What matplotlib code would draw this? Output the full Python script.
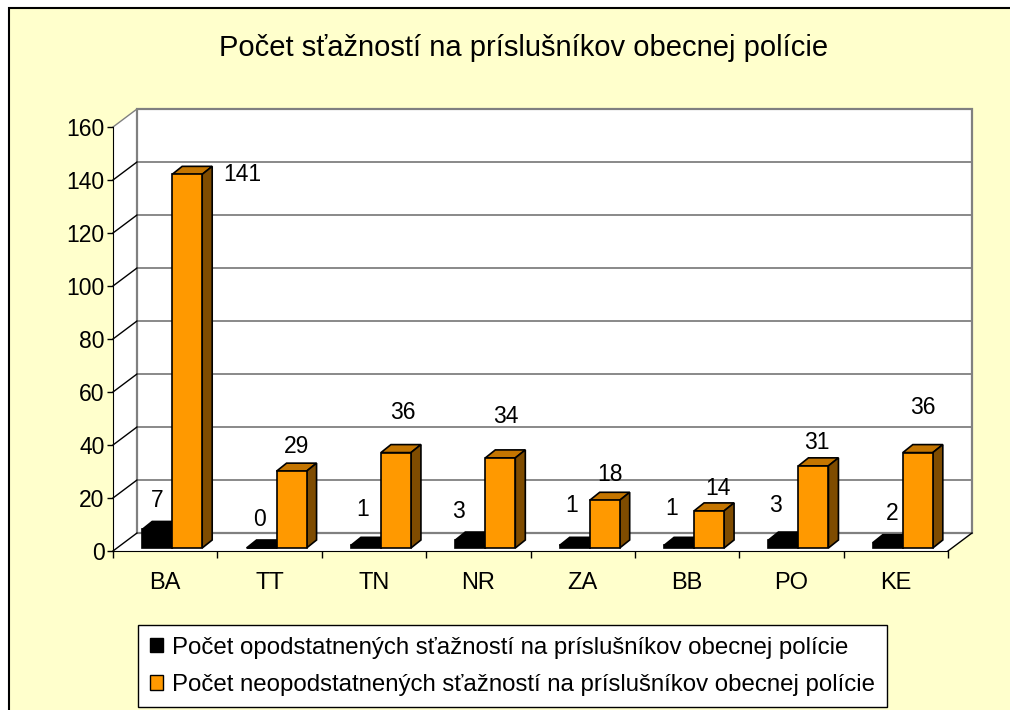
import matplotlib
matplotlib.use("Agg")
import matplotlib.pyplot as plt
from matplotlib.patches import Polygon, Rectangle, Patch

plt.rcParams['font.family'] = ['Liberation Sans', 'DejaVu Sans']

# ---- data ----
title = "Počet sťažností na príslušníkov obecnej polície"
categories = ["BA", "TT", "TN", "NR", "ZA", "BB", "PO", "KE"]
justified = [7, 0, 1, 3, 1, 1, 3, 2]
unjustified = [141, 29, 36, 34, 18, 14, 31, 36]
series_names = ["Počet opodstatnených sťažností na príslušníkov obecnej polície",
                "Počet neopodstatnených sťažností na príslušníkov obecnej polície"]
yticks = [0, 20, 40, 60, 80, 100, 120, 140, 160]

# ---- style ----
W, H = 1010, 710
bg = "#FFFFCC"
front_col = ["#000000", "#FF9900"]
top_col = ["#000000", "#C47500"]
side_col = ["#000000", "#7F4C00"]
grid_col = "#808080"
# data-label offsets (pixels) from the top-centre of each bar's front face
label_dx = [[0, -2, -3, -12, -3, -7, -8, 4], [55, 5, 7, 5, 5, 9, 3, 5]]
label_dy = [[29, 28, 36, 29, 40, 37, 35, 29], [0, 25, 40, 41, 26, 22, 23, 45]]

fig = plt.figure(figsize=(W / 100, H / 100), dpi=100, facecolor="white")
fig.patches.append(Rectangle((9 / W, -0.1), 1.2, (H - 8) / H + 0.1,
                             transform=fig.transFigure, facecolor=bg,
                             edgecolor="black", lw=1.5, zorder=-10))

ax_l, ax_r, ax_t, ax_b = 113, 948, 127, 551
ax = fig.add_axes([ax_l / W, 1 - ax_b / H, (ax_r - ax_l) / W, (ax_b - ax_t) / H])
ax.set_facecolor("none")
n = len(categories)
ymax = 160
ax.set_xlim(0, n)
ax.set_ylim(0, ymax)

# pixel -> data unit conversion
ux = n / (ax_r - ax_l)
uy = ymax / (ax_b - ax_t)

# wall depth in pixels
wdx, wdy = 24 * ux, 18 * uy

# left wall + floor + back wall
ax.add_patch(Polygon([(0, 0), (0, ymax), (wdx, ymax + wdy), (wdx, wdy)],
                     closed=True, facecolor="white", edgecolor="none", clip_on=False, zorder=0))
ax.add_patch(Polygon([(0, 0), (n, 0), (n + wdx, wdy), (wdx, wdy)],
                     closed=True, facecolor="white", edgecolor="none", clip_on=False, zorder=0))
ax.add_patch(Rectangle((wdx, wdy), n, ymax, facecolor="white", edgecolor=grid_col,
                       lw=1.6, clip_on=False, zorder=0.5))
for v in yticks[1:-1]:
    ax.plot([wdx, n + wdx], [v + wdy, v + wdy], color=grid_col, lw=1.3,
            clip_on=False, zorder=0.6)
for v in yticks:
    ax.plot([0, wdx], [v, v + wdy], color=grid_col if v == ymax else "black",
            lw=1.0, clip_on=False, zorder=0.7)
ax.plot([n, n + wdx], [0, wdy], color="black", lw=1.0, clip_on=False, zorder=0.7)

# bars
bw = 30 * ux
shift_x, shift_y = 7 * ux, 3 * uy
bdx, bdy = 10 * ux, 8 * uy
for si, vals in enumerate([justified, unjustified]):
    for i, v in enumerate(vals):
        c = i + 0.5 + shift_x
        x0 = c - bw + si * bw
        x1 = x0 + bw
        y0 = shift_y
        y1 = shift_y + v
        ax.add_patch(Polygon([(x0, y0), (x1, y0), (x1, y1), (x0, y1)], closed=True,
                             facecolor=front_col[si], edgecolor="black", lw=1.2,
                             clip_on=False, zorder=3 + si))
        ax.add_patch(Polygon([(x0, y1), (x1, y1), (x1 + bdx, y1 + bdy), (x0 + bdx, y1 + bdy)],
                             closed=True, facecolor=top_col[si], edgecolor="black", lw=1.2,
                             clip_on=False, zorder=2.5 + si))
        ax.add_patch(Polygon([(x1, y0), (x1 + bdx, y0 + bdy), (x1 + bdx, y1 + bdy), (x1, y1)],
                             closed=True, facecolor=side_col[si], edgecolor="black", lw=1.2,
                             clip_on=False, zorder=2.5 + si))
        ax.annotate(str(v), ((x0 + x1) / 2, y1),
                    xytext=(label_dx[si][i] * 0.72, label_dy[si][i] * 0.72),
                    textcoords="offset points", ha="center", va="center",
                    fontsize=16.5, zorder=10, annotation_clip=False)

# axes styling
for s in ["top", "right"]:
    ax.spines[s].set_visible(False)
ax.spines["left"].set_color("black")
ax.spines["bottom"].set_color("black")
ax.spines["left"].set_zorder(5)
ax.spines["bottom"].set_zorder(5)
ax.set_yticks(yticks)
ax.tick_params(axis="y", direction="out", length=4, width=1, labelsize=16.5, pad=2)
ax.set_xticks(range(n + 1))
ax.set_xticklabels([])
ax.tick_params(axis="x", which="major", direction="out", length=5, width=1)
ax.set_xticks([i + 0.5 for i in range(n)], minor=True)
ax.set_xticklabels(categories, minor=True)
ax.tick_params(axis="x", which="minor", length=0, labelsize=17, pad=15)

fig.text(524 / W, 1 - 48 / H, title, ha="center", va="center", fontsize=21)

handles = [Patch(facecolor=front_col[0], edgecolor="black"),
           Patch(facecolor=front_col[1], edgecolor="black")]
leg = fig.legend(handles, series_names, loc="upper left",
                 bbox_to_anchor=(138 / W, 1 - 625 / H), fontsize=17.3,
                 frameon=True, fancybox=False, edgecolor="black", framealpha=1,
                 handlelength=0.54, handleheight=0.54, handletextpad=0.4,
                 labelspacing=0.64, borderpad=0.48, borderaxespad=0)
leg.get_frame().set_linewidth(1.0)
leg.get_frame().set_facecolor("white")

fig.savefig("out.png", dpi=100, facecolor=fig.get_facecolor())
